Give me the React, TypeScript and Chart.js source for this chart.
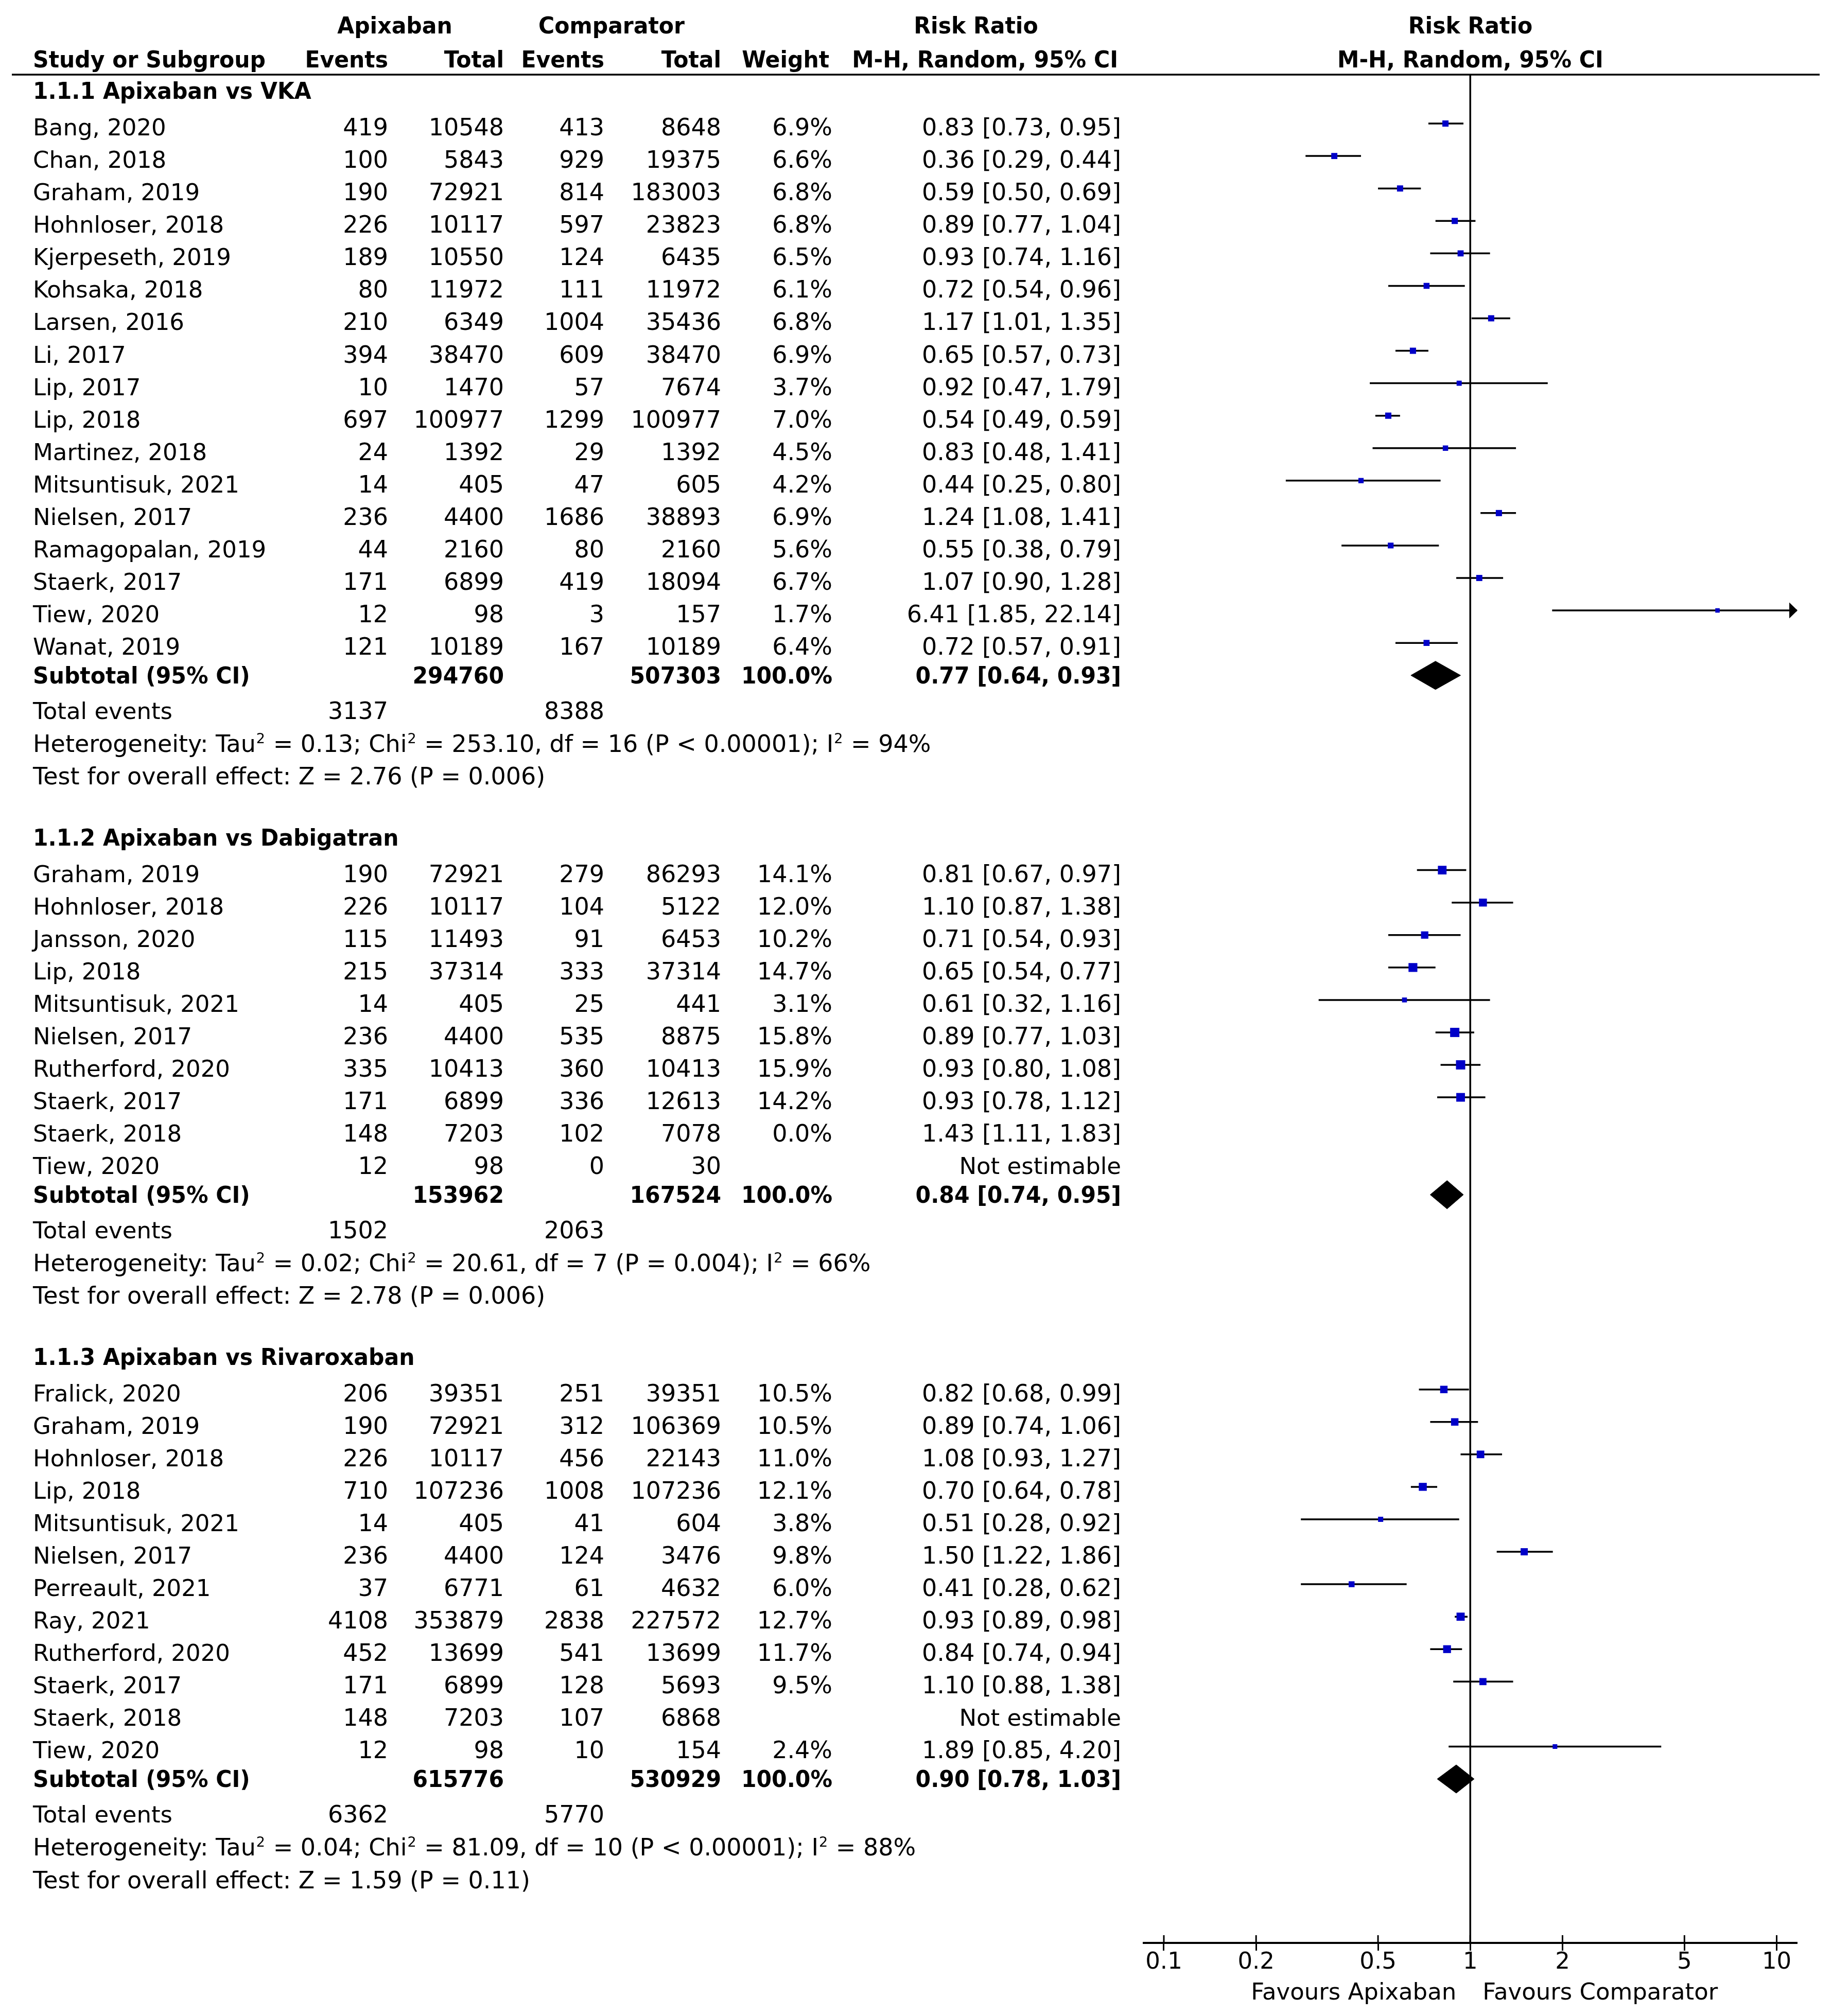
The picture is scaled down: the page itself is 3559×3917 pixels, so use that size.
import React, { useEffect, useRef } from 'react';
import { Chart, registerables } from 'chart.js';

Chart.register(...registerables);

const FAMILY = "'DejaVu Sans', 'Liberation Sans', sans-serif";

// ---------- 1.1.1 Apixaban vs VKA ----------
const studies1 = ['Bang, 2020', 'Chan, 2018', 'Graham, 2019', 'Hohnloser, 2018', 'Kjerpeseth, 2019', 'Kohsaka, 2018', 'Larsen, 2016', 'Li, 2017', 'Lip, 2017', 'Lip, 2018', 'Martinez, 2018', 'Mitsuntisuk, 2021', 'Nielsen, 2017', 'Ramagopalan, 2019', 'Staerk, 2017', 'Tiew, 2020', 'Wanat, 2019'];
const apixEvents1 = [419, 100, 190, 226, 189, 80, 210, 394, 10, 697, 24, 14, 236, 44, 171, 12, 121];
const apixTotal1 = [10548, 5843, 72921, 10117, 10550, 11972, 6349, 38470, 1470, 100977, 1392, 405, 4400, 2160, 6899, 98, 10189];
const compEvents1 = [413, 929, 814, 597, 124, 111, 1004, 609, 57, 1299, 29, 47, 1686, 80, 419, 3, 167];
const compTotal1 = [8648, 19375, 183003, 23823, 6435, 11972, 35436, 38470, 7674, 100977, 1392, 605, 38893, 2160, 18094, 157, 10189];
const weight1 = [6.9, 6.6, 6.8, 6.8, 6.5, 6.1, 6.8, 6.9, 3.7, 7.0, 4.5, 4.2, 6.9, 5.6, 6.7, 1.7, 6.4];
const rr1 = [0.83, 0.36, 0.59, 0.89, 0.93, 0.72, 1.17, 0.65, 0.92, 0.54, 0.83, 0.44, 1.24, 0.55, 1.07, 6.41, 0.72];
const lo1 = [0.73, 0.29, 0.50, 0.77, 0.74, 0.54, 1.01, 0.57, 0.47, 0.49, 0.48, 0.25, 1.08, 0.38, 0.90, 1.85, 0.57];
const hi1 = [0.95, 0.44, 0.69, 1.04, 1.16, 0.96, 1.35, 0.73, 1.79, 0.59, 1.41, 0.80, 1.41, 0.79, 1.28, 22.14, 0.91];

// ---------- 1.1.2 Apixaban vs Dabigatran ----------
const studies2 = ['Graham, 2019', 'Hohnloser, 2018', 'Jansson, 2020', 'Lip, 2018', 'Mitsuntisuk, 2021', 'Nielsen, 2017', 'Rutherford, 2020', 'Staerk, 2017', 'Staerk, 2018', 'Tiew, 2020'];
const apixEvents2 = [190, 226, 115, 215, 14, 236, 335, 171, 148, 12];
const apixTotal2 = [72921, 10117, 11493, 37314, 405, 4400, 10413, 6899, 7203, 98];
const compEvents2 = [279, 104, 91, 333, 25, 535, 360, 336, 102, 0];
const compTotal2 = [86293, 5122, 6453, 37314, 441, 8875, 10413, 12613, 7078, 30];
const weight2 = [14.1, 12.0, 10.2, 14.7, 3.1, 15.8, 15.9, 14.2, 0.0, null];
const rr2 = [0.81, 1.10, 0.71, 0.65, 0.61, 0.89, 0.93, 0.93, 1.43, null];
const lo2 = [0.67, 0.87, 0.54, 0.54, 0.32, 0.77, 0.80, 0.78, 1.11, null];
const hi2 = [0.97, 1.38, 0.93, 0.77, 1.16, 1.03, 1.08, 1.12, 1.83, null];

// ---------- 1.1.3 Apixaban vs Rivaroxaban ----------
const studies3 = ['Fralick, 2020', 'Graham, 2019', 'Hohnloser, 2018', 'Lip, 2018', 'Mitsuntisuk, 2021', 'Nielsen, 2017', 'Perreault, 2021', 'Ray, 2021', 'Rutherford, 2020', 'Staerk, 2017', 'Staerk, 2018', 'Tiew, 2020'];
const apixEvents3 = [206, 190, 226, 710, 14, 236, 37, 4108, 452, 171, 148, 12];
const apixTotal3 = [39351, 72921, 10117, 107236, 405, 4400, 6771, 353879, 13699, 6899, 7203, 98];
const compEvents3 = [251, 312, 456, 1008, 41, 124, 61, 2838, 541, 128, 107, 10];
const compTotal3 = [39351, 106369, 22143, 107236, 604, 3476, 4632, 227572, 13699, 5693, 6868, 154];
const weight3 = [10.5, 10.5, 11.0, 12.1, 3.8, 9.8, 6.0, 12.7, 11.7, 9.5, null, 2.4];
const rr3 = [0.82, 0.89, 1.08, 0.70, 0.51, 1.50, 0.41, 0.93, 0.84, 1.10, null, 1.89];
const lo3 = [0.68, 0.74, 0.93, 0.64, 0.28, 1.22, 0.28, 0.89, 0.74, 0.88, null, 0.85];
const hi3 = [0.99, 1.06, 1.27, 0.78, 0.92, 1.86, 0.62, 0.98, 0.94, 1.38, null, 4.20];

// ---------- subgroup summaries ----------
const sectionTitles = ['1.1.1 Apixaban vs VKA', '1.1.2 Apixaban vs Dabigatran', '1.1.3 Apixaban vs Rivaroxaban'];
const subApixTotal = [294760, 153962, 615776];
const subCompTotal = [507303, 167524, 530929];
const subRR = [0.77, 0.84, 0.90];
const subLo = [0.64, 0.74, 0.78];
const subHi = [0.93, 0.95, 1.03];
const totalApixEvents = [3137, 1502, 6362];
const totalCompEvents = [8388, 2063, 5770];
const tau2 = ['0.13', '0.02', '0.04'];
const chi2 = ['253.10', '20.61', '81.09'];
const dfs = ['16', '7', '10'];
const hetP = ['P < 0.00001', 'P = 0.004', 'P < 0.00001'];
const i2 = ['94', '66', '88'];
const zValues = ['2.76', '2.78', '1.59'];
const zP = ['P = 0.006', 'P = 0.006', 'P = 0.11'];

// ---------- axis ----------
const tickValues = [0.1, 0.2, 0.5, 1, 2, 5, 10];
const tickLabels = ['0.1', '0.2', '0.5', '1', '2', '5', '10'];
const NULL_EFFECT = 1;
const X_MIN = 0.086;
const X_MAX = 11.65;

const sections = [
  { studies: studies1, ae: apixEvents1, at: apixTotal1, ce: compEvents1, ct: compTotal1, w: weight1, rr: rr1, lo: lo1, hi: hi1 },
  { studies: studies2, ae: apixEvents2, at: apixTotal2, ce: compEvents2, ct: compTotal2, w: weight2, rr: rr2, lo: lo2, hi: hi2 },
  { studies: studies3, ae: apixEvents3, at: apixTotal3, ce: compEvents3, ct: compTotal3, w: weight3, rr: rr3, lo: lo3, hi: hi3 },
];

// ---------- layout (row units) ----------
const ROW_HEADER1 = -3.14;
const ROW_HEADER2 = -2.1;
const ROW_RULE = -1.507;
const ROW_AXIS = 56.05;
const DIAMOND_HALF = 0.436;
const BASELINE_OFF = 23;
const FS = 45;      // names / labels
const FS_NUM = 46;  // numbers & statistics lines
const BOLD_SX = 0.945;

const layout = (() => {
  let start = 0;
  return sections.map((s) => {
    const n = s.studies.length;
    const last = start + n - 1;
    const L = {
      title: start - 1.12,
      rows: s.studies.map((_, i) => start + i),
      subtotal: last + 0.88,
      diamond: last + 1.0,
      events: last + 1.98,
      het: last + 2.99,
      test: last + 4.0,
    };
    start = last + 7;
    return L;
  });
})();

const COL = {
  study: 64,
  apixEv: 754,
  apixTot: 979,
  compEv: 1174,
  compTot: 1401,
  weight: 1617,
  weightHead: 1611,
  ci: 2178,
  ciHead: 2172,
  rrHead: 1896,
  apixHead: 767,
  compHead: 1188,
  ruleLeft: 23,
  ruleRight: 3535,
};

const fmt2 = (v: number) => v.toFixed(2);
const ciText = (rr: number | null, lo: number | null, hi: number | null) =>
  rr == null ? 'Not estimable' : `${fmt2(rr)} [${fmt2(lo as number)}, ${fmt2(hi as number)}]`;

function drawText(ctx: CanvasRenderingContext2D, s: string, x: number, y: number, align: CanvasTextAlign, bold = false, size = FS) {
  ctx.save();
  ctx.font = `${bold ? 'bold ' : ''}${size}px ${FAMILY}`;
  ctx.textAlign = align;
  ctx.textBaseline = 'alphabetic';
  ctx.fillStyle = '#000';
  ctx.translate(x, y);
  if (bold) ctx.scale(BOLD_SX, 1);
  ctx.fillText(s, 0, 0);
  ctx.restore();
}

function drawRich(ctx: CanvasRenderingContext2D, parts: (string | { sup: string })[], x: number, y: number) {
  ctx.save();
  ctx.textAlign = 'left';
  ctx.textBaseline = 'alphabetic';
  ctx.fillStyle = '#000';
  let cx = x;
  for (const p of parts) {
    if (typeof p === 'string') {
      ctx.font = `${FS_NUM}px ${FAMILY}`;
      ctx.fillText(p, cx, y);
      cx += ctx.measureText(p).width;
    } else {
      ctx.font = `27px ${FAMILY}`;
      ctx.fillText(p.sup, cx + 1, y - 17);
      cx += ctx.measureText(p.sup).width + 2;
    }
  }
  ctx.restore();
}

const forestPlugin = {
  id: 'forestText',
  beforeDraw(chart: any) {
    const { ctx, width, height } = chart;
    ctx.save();
    ctx.fillStyle = '#fff';
    ctx.fillRect(0, 0, width, height);
    ctx.restore();
  },
  afterDraw(chart: any) {
    const ctx: CanvasRenderingContext2D = chart.ctx;
    const ca = chart.chartArea;
    const xs = chart.scales.x;
    const ys = chart.scales.y;
    const base = (u: number) => ys.getPixelForValue(u) + BASELINE_OFF;
    const plotCenter = (ca.left + ca.right) / 2;

    // headers
    drawText(ctx, 'Apixaban', COL.apixHead, base(ROW_HEADER1), 'center', true);
    drawText(ctx, 'Comparator', COL.compHead, base(ROW_HEADER1), 'center', true);
    drawText(ctx, 'Risk Ratio', COL.rrHead, base(ROW_HEADER1), 'center', true);
    drawText(ctx, 'Risk Ratio', plotCenter, base(ROW_HEADER1), 'center', true);
    drawText(ctx, 'Study or Subgroup', COL.study, base(ROW_HEADER2), 'left', true);
    drawText(ctx, 'Events', COL.apixEv, base(ROW_HEADER2), 'right', true);
    drawText(ctx, 'Total', COL.apixTot, base(ROW_HEADER2), 'right', true);
    drawText(ctx, 'Events', COL.compEv, base(ROW_HEADER2), 'right', true);
    drawText(ctx, 'Total', COL.compTot, base(ROW_HEADER2), 'right', true);
    drawText(ctx, 'Weight', COL.weightHead, base(ROW_HEADER2), 'right', true);
    drawText(ctx, 'M-H, Random, 95% CI', COL.ciHead, base(ROW_HEADER2), 'right', true);
    drawText(ctx, 'M-H, Random, 95% CI', plotCenter, base(ROW_HEADER2), 'center', true);

    // header rule
    const ry = ys.getPixelForValue(ROW_RULE);
    ctx.save();
    ctx.strokeStyle = '#000';
    ctx.lineWidth = 3.5;
    ctx.beginPath();
    ctx.moveTo(COL.ruleLeft, ry);
    ctx.lineTo(COL.ruleRight, ry);
    ctx.stroke();
    ctx.restore();

    sections.forEach((s, k) => {
      const L = layout[k];
      drawText(ctx, sectionTitles[k], COL.study, base(L.title), 'left', true);
      s.studies.forEach((name, i) => {
        const b = base(L.rows[i]);
        drawText(ctx, name, COL.study, b, 'left');
        drawText(ctx, String(s.ae[i]), COL.apixEv, b, 'right', false, FS_NUM);
        drawText(ctx, String(s.at[i]), COL.apixTot, b, 'right', false, FS_NUM);
        drawText(ctx, String(s.ce[i]), COL.compEv, b, 'right', false, FS_NUM);
        drawText(ctx, String(s.ct[i]), COL.compTot, b, 'right', false, FS_NUM);
        const w = s.w[i];
        if (w != null) drawText(ctx, `${w.toFixed(1)}%`, COL.weight, b, 'right', false, FS_NUM);
        drawText(ctx, ciText(s.rr[i], s.lo[i], s.hi[i]), COL.ci, b, 'right', false, s.rr[i] == null ? FS : FS_NUM);
      });
      const sb = base(L.subtotal);
      drawText(ctx, 'Subtotal (95% CI)', COL.study, sb, 'left', true);
      drawText(ctx, String(subApixTotal[k]), COL.apixTot, sb, 'right', true);
      drawText(ctx, String(subCompTotal[k]), COL.compTot, sb, 'right', true);
      drawText(ctx, '100.0%', COL.weight, sb, 'right', true);
      drawText(ctx, ciText(subRR[k], subLo[k], subHi[k]), COL.ci, sb, 'right', true);

      const eb = base(L.events);
      drawText(ctx, 'Total events', COL.study, eb, 'left');
      drawText(ctx, String(totalApixEvents[k]), COL.apixEv, eb, 'right', false, FS_NUM);
      drawText(ctx, String(totalCompEvents[k]), COL.compEv, eb, 'right', false, FS_NUM);

      drawRich(ctx, ['Heterogeneity: Tau', { sup: '2' }, ` = ${tau2[k]}; Chi`, { sup: '2' }, ` = ${chi2[k]}, df = ${dfs[k]} (${hetP[k]}); I`, { sup: '2' }, ` = ${i2[k]}%`], COL.study, base(L.het));
      drawText(ctx, `Test for overall effect: Z = ${zValues[k]} (${zP[k]})`, COL.study, base(L.test), 'left', false, FS_NUM);

      // arrows for CIs beyond the axis
      s.hi.forEach((h, i) => {
        if (h == null || !s.w[i] || h <= xs.max) return;
        const py = ys.getPixelForValue(L.rows[i]);
        const tip = ca.right + 1;
        ctx.save();
        ctx.fillStyle = '#000';
        ctx.beginPath();
        ctx.moveTo(tip, py);
        ctx.lineTo(tip - 16, py - 15.5);
        ctx.lineTo(tip - 16, py + 15.5);
        ctx.closePath();
        ctx.fill();
        ctx.restore();
      });
    });

    // upper half of tick marks
    ctx.save();
    ctx.strokeStyle = '#000';
    ctx.lineWidth = 3;
    tickValues.forEach((v) => {
      const px = xs.getPixelForValue(v);
      ctx.beginPath();
      ctx.moveTo(px, ca.bottom - 15);
      ctx.lineTo(px, ca.bottom);
      ctx.stroke();
    });
    ctx.restore();

    // favours labels
    const one = xs.getPixelForValue(NULL_EFFECT);
    drawText(ctx, 'Favours Apixaban', one - 27, ca.bottom + 110, 'right');
    drawText(ctx, 'Favours Comparator', one + 24, ca.bottom + 110, 'left');
  },
};

export default function App() {
  const ref = useRef<HTMLCanvasElement | null>(null);

  useEffect(() => {
    if (!ref.current) return;
    Chart.defaults.font.family = FAMILY;
    Chart.defaults.color = '#000';

    const ciData: any[] = [];
    const boxData: any[] = [];
    sections.forEach((s, k) => {
      s.rr.forEach((rr, i) => {
        const w = s.w[i];
        if (rr == null || !w) return;
        const yv = layout[k].rows[i];
        ciData.push({ x: s.lo[i], y: yv }, { x: s.hi[i], y: yv }, { x: null, y: null });
        boxData.push({ x: rr, y: yv, w });
      });
    });

    const diamondSets = sections.map((_, k) => {
      const d = layout[k].diamond;
      return {
        type: 'line',
        data: [
          { x: subLo[k], y: d },
          { x: subRR[k], y: d - DIAMOND_HALF },
          { x: subHi[k], y: d },
          { x: subRR[k], y: d + DIAMOND_HALF },
          { x: subLo[k], y: d },
        ],
        fill: 'shape',
        backgroundColor: '#000',
        borderColor: '#000',
        borderWidth: 1,
        pointRadius: 0,
        tension: 0,
        order: 2,
      };
    });

    const chart = new Chart(ref.current, {
      type: 'scatter',
      data: {
        datasets: [
          {
            type: 'line',
            data: [
              { x: NULL_EFFECT, y: ROW_RULE },
              { x: NULL_EFFECT, y: ROW_AXIS },
            ],
            borderColor: '#000',
            borderWidth: 3.5,
            pointRadius: 0,
            order: 4,
          },
          {
            type: 'line',
            data: ciData,
            borderColor: '#000',
            borderWidth: 3.5,
            pointRadius: 0,
            spanGaps: false,
            tension: 0,
            order: 3,
          },
          ...diamondSets,
          {
            type: 'scatter',
            data: boxData,
            pointStyle: 'rect',
            pointRadius: (c: any) => (7.5 + 0.66 * (c.raw ? c.raw.w : 0)) / Math.SQRT2,
            pointBackgroundColor: '#0000C8',
            pointBorderWidth: 0,
            order: 1,
          },
        ] as any,
      },
      options: {
        animation: false,
        responsive: false,
        devicePixelRatio: 1,
        events: [],
        layout: { padding: { left: 2222, right: 68, top: 145, bottom: 0 } },
        plugins: { legend: { display: false }, tooltip: { enabled: false } },
        scales: {
          x: {
            type: 'logarithmic',
            position: 'bottom',
            min: X_MIN,
            max: X_MAX,
            afterBuildTicks: (scale: any) => {
              scale.ticks = tickValues.map((v) => ({ value: v }));
            },
            afterFit: (scale: any) => {
              scale.height = 142;
            },
            ticks: {
              autoSkip: false,
              maxRotation: 0,
              minRotation: 0,
              color: '#000',
              padding: 1,
              font: { size: FS, family: FAMILY, lineHeight: 1 },
              callback: (_v: any, i: number) => tickLabels[i],
            },
            grid: { drawOnChartArea: false, drawTicks: true, tickLength: 15, tickWidth: 3, color: '#000' },
            border: { display: true, width: 4, color: '#000' },
          },
          y: {
            type: 'linear',
            display: false,
            reverse: true,
            min: ROW_RULE,
            max: ROW_AXIS,
          },
        },
      } as any,
      plugins: [forestPlugin],
    });
    return () => chart.destroy();
  }, []);

  return (
    <div style={{ position: 'absolute', left: 0, top: 0, width: 3559, height: 3917, background: '#fff' }}>
      <canvas ref={ref} width={3559} height={3917} style={{ width: 3559, height: 3917, display: 'block' }} />
    </div>
  );
}
